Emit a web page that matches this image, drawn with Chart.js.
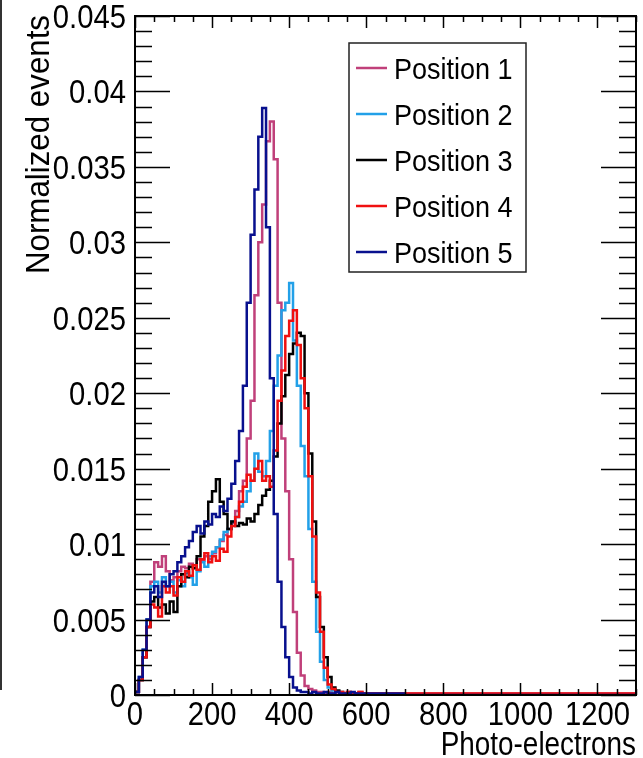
<!DOCTYPE html>
<html lang="en">
<head>
    <meta charset="UTF-8">
    <title>Photo-electrons per position</title>
    <script src="https://cdn.jsdelivr.net/npm/chart.js"></script>
    <style>
        html, body { margin: 0; padding: 0; background: #fff; }
    </style>
</head>
<body>
    <canvas id="peChart" width="643" height="758"></canvas>

    <script>
        // bin edges: 10 p.e. bins up to 600, then two wide bins for the flat tail
        const binEdges = [];
        for (let e = 0; e <= 600; e += 10) binEdges.push(e);
        binEdges.push(700, 1300);

        const seriesNames = ['Position 1', 'Position 2', 'Position 3', 'Position 4', 'Position 5'];
        const seriesColors = ['#c0407a', '#22a0e8', '#000000', '#f01010', '#08108e'];

        // normalized events per bin
        const pos1 = [
            0.0002, 0.001, 0.0025, 0.0045, 0.0075,
            0.0088, 0.0085, 0.0092, 0.0082, 0.0076,
            0.0078, 0.0082, 0.0085, 0.0084, 0.0087,
            0.0086, 0.009, 0.0089, 0.0092, 0.009,
            0.0094, 0.0098, 0.0102, 0.0106, 0.011,
            0.0114, 0.0122, 0.0135, 0.0142, 0.017,
            0.0195, 0.0265, 0.03, 0.0325, 0.0367,
            0.038, 0.0355, 0.026, 0.017, 0.0135,
            0.009, 0.0055, 0.0028, 0.0013, 0.0006,
            0.0004, 0.0003, 0.0002, 0.0002, 0.0001,
            0.0002, 0.0001, 0.0002, 0.0001, 0.0001,
            0.0002, 0.0001, 0.0001, 0.0002, 0.0001,
            0.0001, 0.0001
        ];
        const pos2 = [
            0.0002, 0.0012, 0.003, 0.005, 0.0072,
            0.0075, 0.0068, 0.0078, 0.0072, 0.0075,
            0.0068, 0.0076, 0.0072, 0.0081, 0.0078,
            0.0073, 0.0082, 0.0088, 0.0085, 0.0092,
            0.0095, 0.0098, 0.0103, 0.0108, 0.011,
            0.0115, 0.0118, 0.0125, 0.0128, 0.0135,
            0.0142, 0.016, 0.0148, 0.0145, 0.0155,
            0.0175, 0.0205, 0.0225, 0.0255, 0.026,
            0.0273, 0.0235, 0.0205, 0.0165, 0.0145,
            0.011, 0.0075, 0.0042, 0.0022, 0.001,
            0.0005, 0.0003, 0.0002, 0.0001, 0.0001,
            0.0001, 0.0001, 0.0, 0.0001, 0.0,
            0.0, 0.0
        ];
        const pos3 = [
            0.0002, 0.001, 0.0025, 0.0045, 0.0062,
            0.0065, 0.0058, 0.006, 0.0054, 0.0062,
            0.0055, 0.0072, 0.008, 0.0078, 0.0085,
            0.0084, 0.0092, 0.0105, 0.0112, 0.0128,
            0.0135, 0.0143, 0.0128, 0.012, 0.011,
            0.0115, 0.0112, 0.0114, 0.0113, 0.0117,
            0.0115, 0.012, 0.0126, 0.0132, 0.0136,
            0.0142, 0.0158, 0.018, 0.0198, 0.0212,
            0.0226, 0.0233, 0.024, 0.0238, 0.02,
            0.016, 0.0115, 0.0065, 0.0045, 0.0025,
            0.0012, 0.0005, 0.0003, 0.0002, 0.0001,
            0.0001, 0.0, 0.0001, 0.0, 0.0,
            0.0, 0.0
        ];
        const pos4 = [
            0.0002, 0.001, 0.0025, 0.0045, 0.006,
            0.0058, 0.0052, 0.0072, 0.0068, 0.0072,
            0.0066, 0.0078, 0.0075, 0.0082, 0.0079,
            0.0086, 0.0083, 0.009, 0.0094, 0.0088,
            0.0092, 0.0089, 0.0097, 0.0095, 0.0105,
            0.0112, 0.0118, 0.0128, 0.0138, 0.0146,
            0.0142, 0.015, 0.0155, 0.0142, 0.0145,
            0.0138, 0.0162, 0.0195, 0.0215, 0.0238,
            0.0248, 0.0255, 0.0232, 0.021, 0.019,
            0.0145, 0.0105, 0.0068, 0.0042, 0.0018,
            0.0007, 0.0004, 0.0002, 0.0002, 0.0001,
            0.0002, 0.0001, 0.0001, 0.0002, 0.0001,
            0.0001, 0.0001
        ];
        const pos5 = [
            0.0002, 0.0012, 0.003, 0.005, 0.0068,
            0.0072, 0.0065, 0.0075, 0.0072, 0.008,
            0.0082, 0.0088, 0.0092, 0.0098, 0.0102,
            0.0108, 0.0112, 0.0107, 0.0115, 0.0113,
            0.012, 0.0118, 0.0125, 0.0122, 0.013,
            0.014, 0.0155, 0.0175, 0.0205, 0.026,
            0.0305, 0.0335, 0.037, 0.0389, 0.031,
            0.021, 0.012, 0.0075, 0.0045, 0.0025,
            0.0012, 0.0005, 0.0003, 0.0002, 0.0002,
            0.0001, 0.0002, 0.0001, 0.0001, 0.0002,
            0.0001, 0.0001, 0.0002, 0.0001, 0.0001,
            0.0001, 0.0002, 0.0001, 0.0001, 0.0001,
            0.0001, 0.0
        ];
        const allSeries = [pos1, pos2, pos3, pos4, pos5];

        const xTickLabels = [0, 200, 400, 600, 800, 1000, 1200];
        const yTickLabels = ['0', '0.005', '0.01', '0.015', '0.02', '0.025', '0.03', '0.035', '0.04', '0.045'];

        const FONT = '"Liberation Sans", Arial, sans-serif';

        // histogram outline: one point per left bin edge, plus the last right edge
        function histPoints(values) {
            const pts = values.map((v, i) => ({ x: binEdges[i], y: v }));
            pts.push({ x: binEdges[values.length], y: values[values.length - 1] });
            return pts;
        }

        function txt(ctx, s, x, y, size, sx, align, rot) {
            ctx.save();
            ctx.translate(x, y);
            if (rot) ctx.rotate(rot);
            ctx.scale(sx, 1);
            ctx.font = size + 'px ' + FONT;
            ctx.textAlign = align;
            ctx.textBaseline = 'alphabetic';
            ctx.fillStyle = '#000';
            ctx.fillText(s, 0, 0);
            ctx.restore();
        }

        // ROOT-like frame: inside ticks on all four sides, labels, titles, legend
        const rootFrame = {
            id: 'rootFrame',
            afterDatasetsDraw(chart) {
                const ctx = chart.ctx;
                const a = chart.chartArea;
                const xs = chart.scales.x, ys = chart.scales.y;
                ctx.save();
                ctx.strokeStyle = '#000';
                ctx.lineWidth = 2;
                ctx.strokeRect(a.left, a.top, a.right - a.left, a.bottom - a.top);

                ctx.lineWidth = 1.5;
                ctx.beginPath();
                for (let v = 0; v <= 1300; v += 50) {
                    const px = Math.round(xs.getPixelForValue(v)) + 0.5;
                    const len = v % 200 === 0 ? 12 : 6;
                    ctx.moveTo(px, a.bottom); ctx.lineTo(px, a.bottom - len);
                    ctx.moveTo(px, a.top); ctx.lineTo(px, a.top + len);
                }
                for (let k = 0; k <= 45; k++) {
                    const py = Math.round(ys.getPixelForValue(k * 0.001)) + 0.5;
                    const len = k % 5 === 0 ? 35 : 17;
                    ctx.moveTo(a.left, py); ctx.lineTo(a.left + len, py);
                    ctx.moveTo(a.right, py); ctx.lineTo(a.right - len, py);
                }
                ctx.stroke();

                // stray page edge on the left
                ctx.strokeStyle = '#333';
                ctx.lineWidth = 2;
                ctx.beginPath();
                ctx.moveTo(1, 0); ctx.lineTo(1, 690);
                ctx.stroke();

                yTickLabels.forEach((s, k) => {
                    const py = ys.getPixelForValue(k * 0.005);
                    txt(ctx, s, a.left - 9, py + 12, 34, 0.86, 'right');
                });
                xTickLabels.forEach(v => {
                    txt(ctx, String(v), xs.getPixelForValue(v), a.bottom + 30, 34, 0.86, 'center');
                });
                txt(ctx, 'Photo-electrons', a.right, 755, 34, 0.82, 'right');
                txt(ctx, 'Normalized events', 49, a.top - 1, 34, 0.92, 'right', -Math.PI / 2);

                // legend box
                const lx = 349, ly = 43, lw = 177, lh = 229;
                ctx.fillStyle = '#fff';
                ctx.fillRect(lx, ly, lw, lh);
                ctx.strokeStyle = '#222';
                ctx.lineWidth = 1.5;
                ctx.strokeRect(lx, ly, lw, lh);
                seriesNames.forEach((name, i) => {
                    const cy = 68 + i * 46;
                    ctx.strokeStyle = seriesColors[i];
                    ctx.lineWidth = 2.5;
                    ctx.beginPath();
                    ctx.moveTo(356, cy); ctx.lineTo(387, cy);
                    ctx.stroke();
                    txt(ctx, name, 394, cy + 11, 30, 0.9, 'left');
                });
                ctx.restore();
            }
        };

        const ctx = document.getElementById('peChart').getContext('2d');
        new Chart(ctx, {
            type: 'line',
            data: {
                datasets: allSeries.map((vals, i) => ({
                    label: seriesNames[i],
                    data: histPoints(vals),
                    borderColor: seriesColors[i],
                    borderWidth: 2.5,
                    pointRadius: 0,
                    stepped: 'before',
                    fill: false,
                    order: allSeries.length - i
                }))
            },
            options: {
                responsive: false,
                animation: false,
                layout: { padding: { left: 135, top: 16, right: 7, bottom: 63 } },
                scales: {
                    x: { type: 'linear', min: 0, max: 1300, display: false },
                    y: { min: 0, max: 0.045, display: false }
                },
                plugins: {
                    legend: { display: false },
                    tooltip: { enabled: false }
                }
            },
            plugins: [rootFrame]
        });
    </script>
</body>
</html>
